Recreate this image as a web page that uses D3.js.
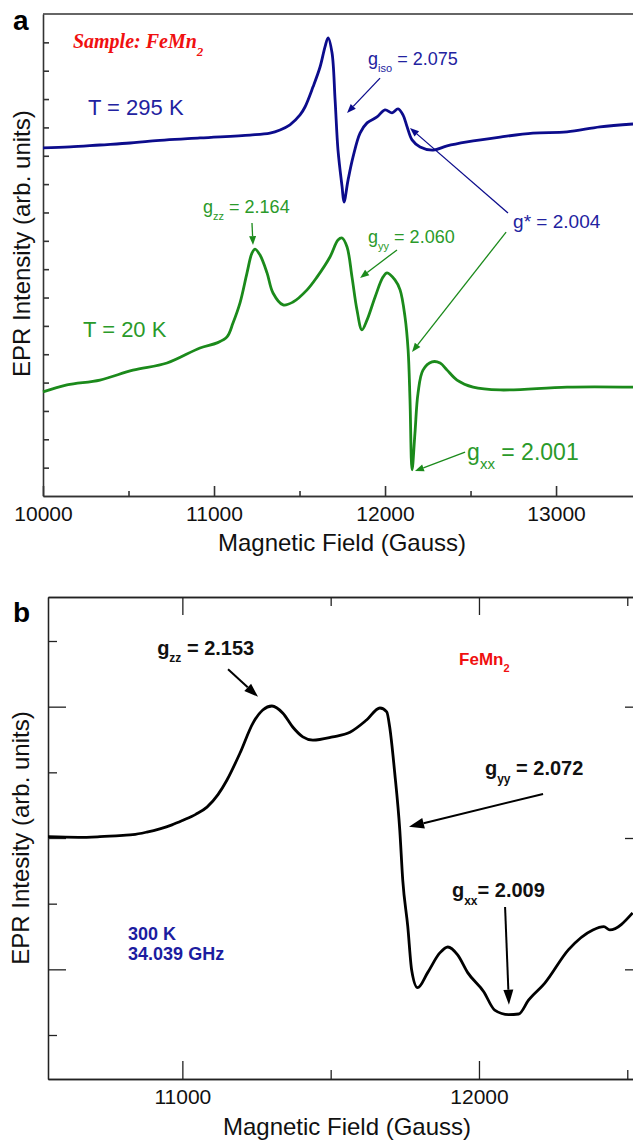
<!DOCTYPE html>
<html>
<head>
<meta charset="utf-8">
<script src="https://cdn.jsdelivr.net/npm/d3@7"></script>
<style>
  body { margin: 0; background: #fff; }
  svg { display: block; font-family: "Liberation Sans", Arial, sans-serif; }
</style>
</head>
<body>
<svg id="chart" width="633" height="1142"></svg>
<script>
// ---- panel a data (field in Gauss, intensity in arb. units = tick steps)
const fieldBlue = [10000, 10158, 10333, 10509, 10626, 10918, 11211, 11327, 11386, 11444, 11503, 11532, 11579, 11620, 11649,
  11667, 11690, 11708, 11725, 11749, 11760, 11784, 11813, 11854, 11895, 11953, 12000, 12041, 12076, 12105, 12129, 12158,
  12205, 12281, 12363, 12480, 12673, 12865, 13064, 13257, 13450];
const intensityBlue = [12.28, 12.31, 12.38, 12.45, 12.52, 12.63, 12.73, 12.80, 12.91, 13.09, 13.44, 13.72, 14.43, 15.13, 15.84,
  16.16, 15.63, 13.97, 12.20, 10.90, 10.37, 11.15, 11.96, 12.80, 13.16, 13.37, 13.62, 13.51, 13.65, 13.44, 13.02, 12.56,
  12.31, 12.20, 12.35, 12.49, 12.66, 12.80, 12.84, 13.02, 13.12];

const fieldGreen = [10000, 10140, 10333, 10526, 10725, 10918, 11018, 11076, 11111, 11152, 11193, 11222, 11240, 11269, 11310,
  11345, 11404, 11462, 11544, 11602, 11678, 11725, 11749, 11778, 11807, 11836, 11865, 11895, 11942, 11988, 12012, 12058,
  12088, 12117, 12135, 12146, 12158, 12175, 12193, 12222, 12275, 12322, 12363, 12421, 12515, 12673, 13064, 13450];
const intensityGreen = [3.67, 3.92, 4.09, 4.44, 4.69, 5.22, 5.40, 5.61, 6.10, 6.81, 7.87, 8.57, 8.71, 8.50, 7.87,
  7.16, 6.74, 6.84, 7.27, 7.72, 8.43, 9.03, 9.10, 8.78, 7.72, 6.56, 5.86, 6.21, 7.02, 7.72, 7.87, 7.62,
  7.27, 6.31, 5.15, 3.39, 0.92, 2.22, 3.63, 4.44, 4.73, 4.69, 4.44, 4.09, 3.84, 3.74, 3.84, 3.84];

const xTicksA = [10000, 11000, 12000, 13000];
const xMinorA = [10500, 11500, 12500];
const yTicksA = d3.range(1, 17);

// ---- panel b data
const fieldB = [10547, 10650, 10722, 10800, 10833, 10880, 10924, 10965, 11002, 11045, 11083, 11120, 11150, 11194, 11238,
  11271, 11302, 11339, 11372, 11406, 11440, 11507, 11565, 11622, 11666, 11689, 11699, 11716, 11733, 11743, 11760, 11773,
  11793, 11827, 11868, 11895, 11928, 11962, 12016, 12053, 12100, 12134, 12167, 12222, 12302, 12384, 12421, 12441, 12518];
const intensityB = [0.02, 0.01, 0.02, 0.04, 0.05, 0.09, 0.14, 0.20, 0.27, 0.36, 0.47, 0.66, 0.88, 1.29, 1.75,
  1.95, 2.01, 1.90, 1.69, 1.54, 1.49, 1.54, 1.61, 1.80, 1.98, 1.92, 1.69, 0.99, 0.12, -0.64, -1.35, -2.01,
  -2.28, -2.05, -1.75, -1.66, -1.78, -2.05, -2.34, -2.62, -2.69, -2.68, -2.47, -2.21, -1.70, -1.40, -1.35, -1.40, -1.14];

const xTicksB = [11000, 12000];
const xMinorB = [11500, 12500];
const yTicksB = [-2, 0, 2];
const yMinorB = [-3, -1, 1, 3];

const blueLine = "#0c0c8c", blueText = "#2222a0";
const greenLine = "#1b8a1b", greenText = "#2a9a2a";
const red = "#f01010";

const svg = d3.select("#chart");

// helpers
function arrow(g, x1, y1, x2, y2, color, w, len, half) {
  const a = Math.atan2(y2 - y1, x2 - x1);
  const bx = x2 - len * Math.cos(a), by = y2 - len * Math.sin(a);
  g.append("line")
    .attr("x1", x1).attr("y1", y1).attr("x2", bx).attr("y2", by)
    .attr("stroke", color).attr("stroke-width", w);
  g.append("path")
    .attr("d", `M${x2},${y2}L${bx - half * Math.sin(a)},${by + half * Math.cos(a)}L${bx + half * Math.sin(a)},${by - half * Math.cos(a)}Z`)
    .attr("fill", color);
}

// parts: [text, isSubscript]
function label(g, x, y, parts, color, size, subSize, weight, family, style) {
  const t = g.append("text")
    .attr("x", x).attr("y", y)
    .attr("fill", color)
    .attr("font-size", size)
    .attr("font-weight", weight || "normal")
    .attr("font-style", style || "normal");
  if (family) t.attr("font-family", family);
  const off = size * 0.38;
  let down = false;
  parts.forEach(p => {
    const s = t.append("tspan").text(p[0]);
    if (p[1]) {
      s.attr("font-size", subSize).attr("dy", off);
      down = true;
    } else if (down) {
      s.attr("dy", -off);
      down = false;
    }
  });
  return t;
}

function styleAxis(sel, color, width) {
  sel.selectAll("path, line").attr("stroke", color).attr("stroke-width", width);
  sel.selectAll("text").attr("fill", "#111").attr("font-family", "Liberation Sans, Arial, sans-serif").attr("font-size", 21);
}

// ================= panel a =================
const xA = d3.scaleLinear().domain([10000, 13450]).range([43, 633]);
const yA = d3.scaleLinear().domain([0, 17]).range([496, 14]);
const ga = svg.append("g");

const axA = ga.append("g")
  .attr("transform", `translate(0,${yA(0)})`)
  .call(d3.axisBottom(xA).tickValues(xTicksA).tickSize(-10).tickSizeOuter(0).tickPadding(10).tickFormat(d3.format("d")));
styleAxis(axA, "#333", 1.6);
const axA2 = ga.append("g")
  .attr("transform", `translate(0,${yA(0)})`)
  .call(d3.axisBottom(xA).tickValues(xMinorA).tickSize(-5).tickSizeOuter(0).tickFormat(""));
styleAxis(axA2, "#333", 1.6);
const ayA = ga.append("g")
  .attr("transform", `translate(${xA(10000)},0)`)
  .call(d3.axisLeft(yA).tickValues(yTicksA).tickSize(-6).tickSizeOuter(0).tickFormat(""));
styleAxis(ayA, "#333", 1.6);
// top frame
ga.append("line")
  .attr("x1", xA.range()[0]).attr("x2", xA.range()[1])
  .attr("y1", yA(17)).attr("y2", yA(17))
  .attr("stroke", "#333").attr("stroke-width", 1.6);

const lineA = d3.line().x(d => xA(d[0])).y(d => yA(d[1])).curve(d3.curveCatmullRom.alpha(0.5));
ga.append("path")
  .datum(d3.zip(fieldBlue, intensityBlue))
  .attr("d", lineA).attr("fill", "none")
  .attr("stroke", blueLine).attr("stroke-width", 2.8).attr("stroke-linejoin", "round");
ga.append("path")
  .datum(d3.zip(fieldGreen, intensityGreen))
  .attr("d", lineA).attr("fill", "none")
  .attr("stroke", greenLine).attr("stroke-width", 2.8).attr("stroke-linejoin", "round");

// axis titles
ga.append("text")
  .attr("x", (xA(11000) + xA(13000)) / 2 - 43).attr("y", 551)
  .attr("text-anchor", "middle").attr("font-size", 24).attr("fill", "#111")
  .text("Magnetic Field (Gauss)");
ga.append("text")
  .attr("transform", `translate(30,${yA(8.9)}) rotate(-90)`)
  .attr("text-anchor", "middle").attr("font-size", 24).attr("fill", "#111")
  .text("EPR Intensity (arb. units)");
ga.append("text")
  .attr("x", 13).attr("y", 30)
  .attr("font-size", 28).attr("font-weight", "bold").attr("fill", "#000")
  .text("a");

// annotations (data units)
label(ga, xA(10175), yA(15.8), [["Sample: FeMn"], ["2", true]], red, 20, 13, "bold", "Liberation Serif, Times New Roman, serif", "italic");
label(ga, xA(10263), yA(13.44), [["T = 295 K"]], blueText, 22);
label(ga, xA(10234), yA(5.61), [["T = 20 K"]], greenText, 22);
label(ga, xA(11901), yA(15.2), [["g"], ["iso", true], [" = 2.075"]], blueText, 18, 11);
label(ga, xA(12749), yA(9.45), [["g* = 2.004"]], blueText, 19);
label(ga, xA(10936), yA(9.98), [["g"], ["zz", true], [" = 2.164"]], greenText, 18, 11);
label(ga, xA(11901), yA(8.92), [["g"], ["yy", true], [" = 2.060"]], greenText, 18, 11);
label(ga, xA(12480), yA(1.27), [["g"], ["xx", true], [" = 2.001"]], greenText, 23, 15);

arrow(ga, xA(11971), yA(14.74), xA(11778), yA(13.51), blueLine, 1.3, 9, 3.5);
arrow(ga, xA(12719), yA(9.98), xA(12146), yA(12.98), blueLine, 1.3, 9, 3.5);
arrow(ga, xA(12708), yA(9.31), xA(12158), yA(5.08), greenLine, 1.3, 9, 3.5);
arrow(ga, xA(11222), yA(9.63), xA(11228), yA(8.85), greenLine, 1.3, 9, 3.5);
arrow(ga, xA(12070), yA(8.68), xA(11854), yA(7.69), greenLine, 1.3, 9, 3.5);
arrow(ga, xA(12468), yA(1.55), xA(12175), yA(0.88), greenLine, 1.3, 9, 3.5);

// ================= panel b =================
const xB = d3.scaleLinear().domain([10547, 12553]).range([48, 643]);
const yB = d3.scaleLinear().domain([-3.67, 3.67]).range([1079, 597]);
const gb = svg.append("g");

const bx1 = gb.append("g").attr("transform", `translate(0,${yB(-3.67)})`)
  .call(d3.axisBottom(xB).tickValues(xTicksB).tickSize(-18).tickSizeOuter(0).tickPadding(10).tickFormat(d3.format("d")));
const bx2 = gb.append("g").attr("transform", `translate(0,${yB(-3.67)})`)
  .call(d3.axisBottom(xB).tickValues(xMinorB).tickSize(-9).tickSizeOuter(0).tickFormat(""));
const bx3 = gb.append("g").attr("transform", `translate(0,${yB(3.67)})`)
  .call(d3.axisTop(xB).tickValues(xTicksB).tickSize(-18).tickSizeOuter(0).tickFormat(""));
const bx4 = gb.append("g").attr("transform", `translate(0,${yB(3.67)})`)
  .call(d3.axisTop(xB).tickValues(xMinorB).tickSize(-9).tickSizeOuter(0).tickFormat(""));
const by1 = gb.append("g").attr("transform", `translate(${xB(10547)},0)`)
  .call(d3.axisLeft(yB).tickValues(yTicksB).tickSize(-18).tickSizeOuter(0).tickFormat(""));
const by2 = gb.append("g").attr("transform", `translate(${xB(10547)},0)`)
  .call(d3.axisLeft(yB).tickValues(yMinorB).tickSize(-9).tickSizeOuter(0).tickFormat(""));
const by3 = gb.append("g").attr("transform", `translate(${xB(12553)},0)`)
  .call(d3.axisRight(yB).tickValues(yTicksB).tickSize(-18).tickSizeOuter(0).tickFormat(""));
const by4 = gb.append("g").attr("transform", `translate(${xB(12553)},0)`)
  .call(d3.axisRight(yB).tickValues(yMinorB).tickSize(-9).tickSizeOuter(0).tickFormat(""));
[bx1, bx2, bx3, bx4, by1, by2, by3, by4].forEach(a => styleAxis(a, "#222", 1.3));

const lineB = d3.line().x(d => xB(d[0])).y(d => yB(d[1])).curve(d3.curveMonotoneX);
gb.append("path")
  .datum(d3.zip(fieldB, intensityB))
  .attr("d", lineB).attr("fill", "none")
  .attr("stroke", "#000").attr("stroke-width", 2.8).attr("stroke-linejoin", "round");

gb.append("text")
  .attr("x", 347).attr("y", 1135)
  .attr("text-anchor", "middle").attr("font-size", 24).attr("fill", "#111")
  .text("Magnetic Field (Gauss)");
gb.append("text")
  .attr("transform", `translate(29,${yB(0)}) rotate(-90)`)
  .attr("text-anchor", "middle").attr("font-size", 24).attr("fill", "#111")
  .text("EPR Intesity (arb. units)");
gb.append("text")
  .attr("x", 13).attr("y", 622)
  .attr("font-size", 28).attr("font-weight", "bold").attr("fill", "#000")
  .text("b");

label(gb, xB(10915), yB(2.79), [["g"], ["zz", true], [" = 2.153"]], "#111", 20, 12, "bold");
label(gb, xB(11933), yB(2.63), [["FeMn"], ["2", true]], red, 17, 11, "bold");
label(gb, xB(12020), yB(0.96), [["g"], ["yy", true], [" = 2.072"]], "#111", 20, 12, "bold");
label(gb, xB(11909), yB(-0.90), [["g"], ["xx", true], ["= 2.009"]], "#111", 20, 12, "bold");
label(gb, xB(10817), yB(-1.55), [["300 K"]], "#1c1ca0", 18, 12, "bold");
label(gb, xB(10817), yB(-1.86), [["34.039 GHz"]], "#1c1ca0", 18, 12, "bold");

arrow(gb, xB(11154), yB(2.57), xB(11255), yB(2.15), "#000", 2, 14, 5);
arrow(gb, xB(12216), yB(0.67), xB(11764), yB(0.17), "#000", 2, 15, 5.5);
arrow(gb, xB(12088), yB(-1.05), xB(12101), yB(-2.54), "#000", 2, 15, 5);
</script>
</body>
</html>
